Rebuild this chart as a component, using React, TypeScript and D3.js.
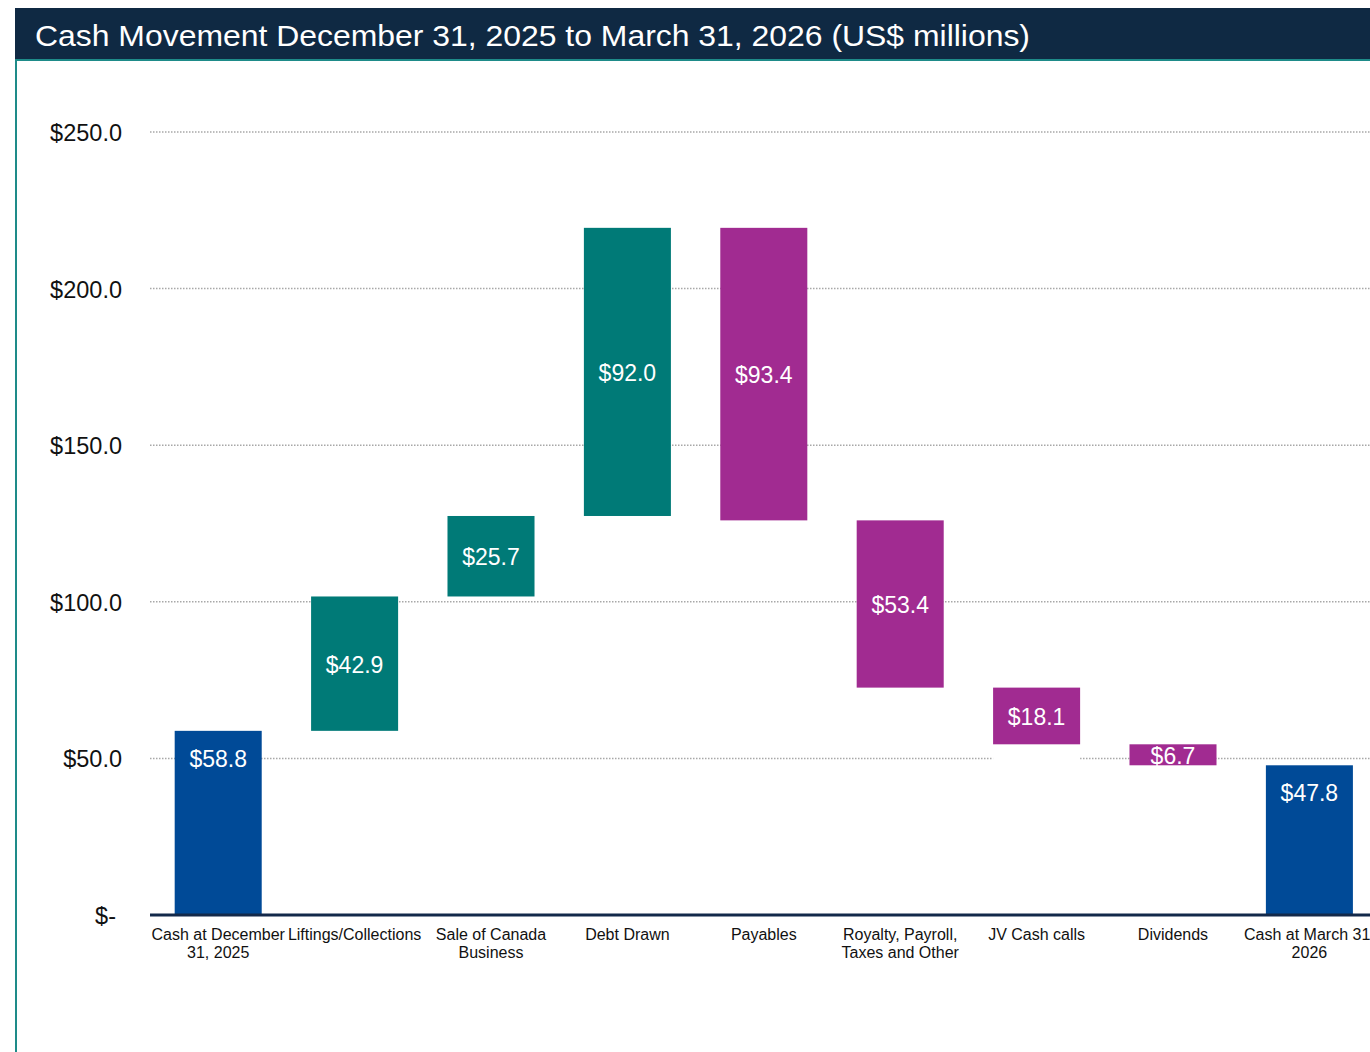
import React from "react";
import * as d3 from "d3";

const title = "Cash Movement December 31, 2025 to March 31, 2026 (US$ millions)";
const categories = [
  "Cash at December\n31, 2025",
  "Liftings/Collections",
  "Sale of Canada\nBusiness",
  "Debt Drawn",
  "Payables",
  "Royalty, Payroll,\nTaxes and Other",
  "JV Cash calls",
  "Dividends",
  "Cash at March 31,\n2026",
];
const amounts = [58.8, 42.9, 25.7, 92.0, -93.4, -53.4, -18.1, -6.7, 47.8];
const kinds = ["total", "inc", "inc", "inc", "dec", "dec", "dec", "dec", "total"];
const yTicks = [0, 50, 100, 150, 200, 250];
const maskedBase = ["JV Cash calls"];

const colors: Record<string, string> = { total: "#004a97", inc: "#007a77", dec: "#a12b91" };

export default function App() {
  const W = 1370, H = 1052;
  const x = d3.scaleBand().domain(categories).range([150, 1377.6]).paddingInner(0.362).paddingOuter(0.181);
  const y = d3.scaleLinear().domain([0, 250]).range([915, 132]);

  let run = 0;
  const bars = categories.map((c, i) => {
    let lo: number, hi: number;
    if (kinds[i] === "total") { lo = 0; hi = amounts[i]; run = amounts[i]; }
    else { const next = run + amounts[i]; lo = Math.min(run, next); hi = Math.max(run, next); run = next; }
    return { c, lo, hi, kind: kinds[i], v: Math.abs(amounts[i]) };
  });
  const fmtTick = (v: number) => (v === 0 ? "$-" : "$" + d3.format(".1f")(v));
  const font = "'Liberation Sans', Arial, sans-serif";

  return (
    <svg width={W} height={H} style={{ position: "absolute", left: 0, top: 0, background: "#fff" }} fontFamily={font}>
      <rect x={15} y={8} width={W - 15} height={52} fill="#0f2943" />
      <rect x={15} y={59} width={W - 15} height={2} fill="#1e8b89" />
      <rect x={15} y={60} width={2} height={H - 60} fill="#1e8b89" />
      <text x={35} y={46} fill="#fff" fontSize={29} textLength={995} lengthAdjust="spacingAndGlyphs">{title}</text>

      {yTicks.filter((t) => t > 0).map((t) => (
        <line key={t} x1={150} x2={W} y1={y(t)} y2={y(t)} stroke="#a8a8a8" strokeWidth={1.5} strokeDasharray="1.5 1.5" />
      ))}
      {yTicks.map((t) => (
        <text key={"l" + t} x={t === 0 ? 116 : 122} y={y(t) + 9} textAnchor="end" fontSize={23.5} fill="#111">{fmtTick(t)}</text>
      ))}

      {bars.map((b) =>
        maskedBase.includes(b.c) ? (
          <rect key={"m" + b.c} x={x(b.c)!} width={x.bandwidth()} y={y(b.lo)} height={y(0) - y(b.lo) - 2} fill="#fff" />
        ) : null
      )}

      {bars.map((b) => (
        <rect key={b.c} x={x(b.c)!} width={x.bandwidth()} y={y(b.hi)} height={y(b.lo) - y(b.hi)} fill={colors[b.kind]} />
      ))}
      {bars.map((b) => {
        const cx = x(b.c)! + x.bandwidth() / 2;
        const cy = b.kind === "total" ? y(b.hi) + 27 : (y(b.hi) + y(b.lo)) / 2;
        return (
          <text key={"v" + b.c} x={cx} y={cy + 9} textAnchor="middle" fill="#fff" fontSize={23}>
            {"$" + d3.format(".1f")(b.v)}
          </text>
        );
      })}

      <line x1={150} x2={W} y1={y(0)} y2={y(0)} stroke="#13294a" strokeWidth={3} />

      {categories.map((c) => {
        const cx = x(c)! + x.bandwidth() / 2;
        return (
          <text key={"c" + c} x={cx} y={940} textAnchor="middle" fontSize={16} fill="#111">
            {c.split("\n").map((ln, k) => (
              <tspan key={k} x={cx} dy={k === 0 ? 0 : 18}>{ln}</tspan>
            ))}
          </text>
        );
      })}
    </svg>
  );
}
